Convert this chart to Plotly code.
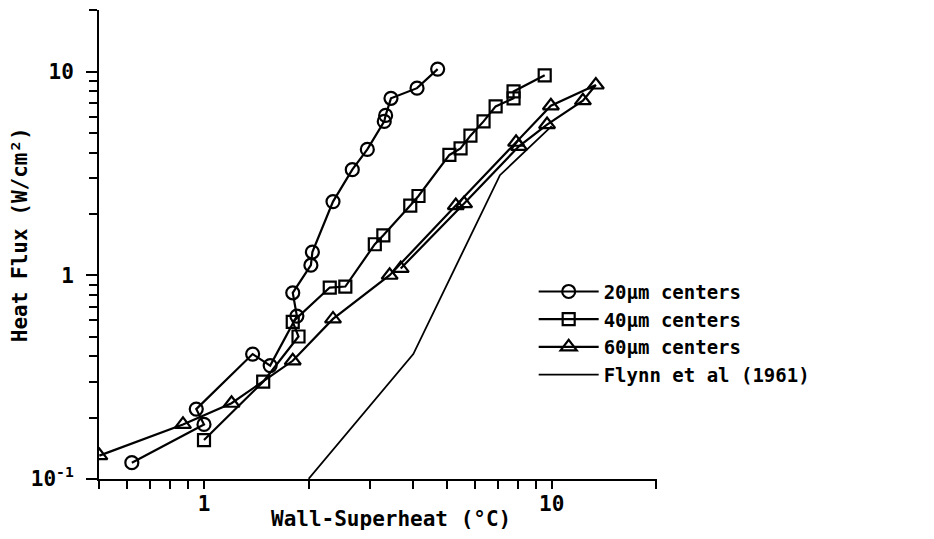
import numpy as np
import plotly.graph_objects as go

# ---- data ----
x20 = [0.62, 1.0, 0.95, 1.38, 1.55, 1.85, 1.8, 2.03, 2.05, 2.35, 2.67, 2.95, 3.3, 3.33, 3.45, 4.1, 4.7]
y20 = [0.12, 0.185, 0.22, 0.41, 0.36, 0.63, 0.82, 1.12, 1.3, 2.3, 3.3, 4.15, 5.7, 6.1, 7.4, 8.3, 10.3]

x40 = [1.0, 1.48, 1.87, 1.8, 2.3, 2.55, 3.1, 3.28, 3.92, 4.14, 5.08, 5.47, 5.84, 6.37, 6.9, 7.77, 7.77, 9.55]
y40 = [0.155, 0.30, 0.50, 0.59, 0.87, 0.88, 1.42, 1.57, 2.2, 2.45, 3.9, 4.2, 4.85, 5.7, 6.75, 7.4, 8.0, 9.6]

x60 = [0.5, 0.87, 1.2, 1.8, 2.35, 3.42, 5.3, 7.9, 9.95, 13.4, 12.3, 9.7, 8.05, 5.6, 3.68]
y60 = [0.13, 0.185, 0.235, 0.38, 0.61, 1.0, 2.2, 4.5, 6.8, 8.6, 7.2, 5.5, 4.3, 2.25, 1.08]

x_flynn = [2.0, 4.0, 7.1, 10.0]
y_flynn = [0.1, 0.41, 3.1, 5.4]

names = ["20μm centers", "40μm centers", "60μm centers", "Flynn et al (1961)"]

major_vals = [0.1, 1, 10]
y_major_text = ["10<sup>-1</sup>", "1", "10"]
x_major_vals = [1, 10]
x_major_text = ["1", "10"]
minor_vals = [0.2, 0.3, 0.4, 0.5, 0.6, 0.7, 0.8, 0.9, 2, 3, 4, 5, 6, 7, 8, 9, 20]

FONT = "DejaVu Sans Mono"

fig = go.Figure()
mk = dict(color="black", size=13, line=dict(color="black", width=2.2))
fig.add_trace(go.Scatter(x=x20, y=y20, mode="lines+markers", name=names[0],
                         line=dict(color="black", width=2.2),
                         marker=dict(symbol="circle-open", **mk)))
fig.add_trace(go.Scatter(x=x40, y=y40, mode="lines+markers", name=names[1],
                         line=dict(color="black", width=2.2),
                         marker=dict(symbol="square-open", **{**mk, "size": 12})))
fig.add_trace(go.Scatter(x=x60, y=y60, mode="lines+markers", name=names[2],
                         line=dict(color="black", width=2.2),
                         marker=dict(symbol="triangle-up-open", **{**mk, "size": 14})))
fig.add_trace(go.Scatter(x=x_flynn, y=y_flynn, mode="lines", name=names[3],
                         line=dict(color="black", width=1.8)))

def axis_common(major_len):
    return dict(
        type="log", showgrid=False, zeroline=False, automargin=False,
        showline=True, linecolor="black", linewidth=2,
        ticks="outside", ticklen=major_len, tickwidth=2, tickcolor="black",
        tickfont=dict(family=FONT, size=21, color="black", weight="bold"),
        minor=dict(ticks="outside", ticklen=8, tickwidth=2, tickcolor="black",
                   tickvals=minor_vals, showgrid=False),
    )

fig.update_xaxes(range=[np.log10(0.5) - 0.001, np.log10(20) + 0.002],
                 tickmode="array", tickvals=x_major_vals, ticktext=x_major_text,
                 ticklabelstandoff=-3, **axis_common(8))
fig.update_yaxes(range=[-1.001, np.log10(20) + 0.002],
                 tickmode="array", tickvals=major_vals, ticktext=y_major_text,
                 ticklabelstandoff=8, **axis_common(11))

fig.update_layout(
    width=934, height=539,
    margin=dict(l=91, r=285, t=2, b=68),
    paper_bgcolor="white", plot_bgcolor="white",
    font=dict(family=FONT, color="black"),
    showlegend=True,
    legend=dict(x=0.779, y=0.44, xanchor="left", yanchor="top",
                bgcolor="rgba(0,0,0,0)",
                font=dict(family=FONT, size=19, color="black", weight="bold"),
                tracegroupgap=0, itemwidth=60),
    annotations=[
        dict(text="Wall-Superheat (°C)", xref="paper", yref="paper",
             x=0.523, y=-0.085, xanchor="center", yanchor="middle", showarrow=False,
             font=dict(family=FONT, size=21, color="black", weight="bold")),
        dict(text="Heat Flux (W/cm²)", xref="paper", yref="paper",
             x=-0.1416, y=0.522, xanchor="center", yanchor="middle", showarrow=False,
             textangle=-90,
             font=dict(family=FONT, size=21, color="black", weight="bold")),
    ],
)

fig.write_html("out.html")
